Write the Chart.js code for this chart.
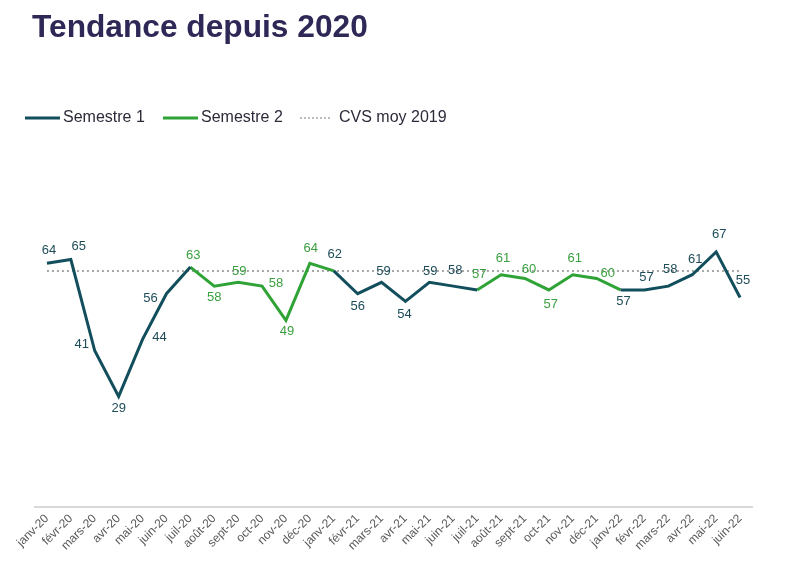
<!DOCTYPE html>
<html>
<head>
<meta charset="utf-8">
<script src="https://cdn.jsdelivr.net/npm/chart.js@4/dist/chart.umd.min.js"></script>
<style>
  body { margin: 0; background: #fff; }
  #wrap { width: 791px; height: 578px; }
</style>
</head>
<body>
<div id="wrap"><canvas id="myChart"></canvas></div>
<script>
// months and values
var months = ['janv-20','févr-20','mars-20','avr-20','mai-20','juin-20','juil-20','août-20','sept-20','oct-20','nov-20','déc-20',
              'janv-21','févr-21','mars-21','avr-21','mai-21','juin-21','juil-21','août-21','sept-21','oct-21','nov-21','déc-21',
              'janv-22','févr-22','mars-22','avr-22','mai-22','juin-22'];
var values = [64, 65, 41, 29, 44, 56, 63, 58, 59, 58, 49, 64,
              62, 56, 59, 54, 59, 58, 57, 61, 60, 57, 61, 60,
              57, 57, 58, 61, 67, 55];
var cvs2019 = 62;

// label placement around each point (dx, dy)
var labelOffsets = [[2,-13],[8,-13],[-13,-6],[0,12],[17,-2],[-16,5],[3,-12],[0,11],[1,-11],[14,-3],[1,11],[1,-15],
                    [1,-16],[0,13],[2,-11],[-1,13],[1,-11],[2,-16],[2,-16],[2,-16],[4,-9],[2,14],[2,-16],[11,-5],
                    [3,11],[2,-13],[2,-17],[3,-15],[3,-17],[3,-17]];

var darkTeal = '#124e5c';
var green = '#2fa336';
var grey = '#a6a6a6';
var FONT = '"Liberation Sans", Arial, sans-serif';

function semestre(i) { return (i % 12) < 6 ? 1 : 2; }

// each semester line also carries the first point of the next semester
var s1 = values.map(function (v, i) { return (i % 12) <= 6 ? v : null; });
var s2 = values.map(function (v, i) { return (i % 12) >= 6 || (i % 12) === 0 ? v : null; });
var cvs = values.map(function () { return cvs2019; });

// title + legend drawn by hand so they sit where the original has them
var headerPlugin = {
  id: 'header',
  afterDraw: function (chart) {
    var c = chart.ctx;
    c.save();
    c.font = 'bold 31.7px ' + FONT;
    c.fillStyle = '#2d2856';
    c.textBaseline = 'alphabetic';
    c.fillText('Tendance depuis 2020', 32, 37);

    var items = [
      { x: 25, tx: 63, ds: chart.data.datasets[0] },
      { x: 163, tx: 201, ds: chart.data.datasets[1] },
      { x: 300, tx: 339, ds: chart.data.datasets[2] }
    ];
    var ly = 118;
    c.font = '16px ' + FONT;
    c.textBaseline = 'middle';
    items.forEach(function (it) {
      var dashed = !!it.ds.borderDash;
      c.beginPath();
      c.strokeStyle = it.ds.borderColor;
      c.lineWidth = dashed ? 1.5 : 3;
      c.setLineDash(dashed ? [2, 2] : []);
      c.moveTo(it.x, ly);
      c.lineTo(it.x + (dashed ? 32 : 35), ly);
      c.stroke();
      c.setLineDash([]);
      c.fillStyle = '#2b2b3a';
      c.fillText(it.ds.label, it.tx, ly);
    });
    c.restore();
  }
};

var valueLabels = {
  id: 'valueLabels',
  afterDatasetsDraw: function (chart) {
    var c = chart.ctx;
    var x = chart.scales.x, y = chart.scales.y;
    c.save();
    c.font = '13px ' + FONT;
    c.textAlign = 'center';
    c.textBaseline = 'middle';
    values.forEach(function (v, i) {
      var off = labelOffsets[i];
      c.fillStyle = semestre(i) === 1 ? '#1e4d59' : '#3a9f3f';
      c.fillText(String(v), x.getPixelForValue(i) + off[0], y.getPixelForValue(v) + off[1]);
    });
    c.restore();
  }
};

var ctx = document.getElementById('myChart').getContext('2d');
var chart = new Chart(ctx, {
  type: 'line',
  data: {
    labels: months,
    datasets: [{
      label: 'Semestre 1',
      data: s1,
      borderColor: darkTeal,
      borderWidth: 3,
      pointRadius: 0,
      tension: 0
    }, {
      label: 'Semestre 2',
      data: s2,
      borderColor: green,
      borderWidth: 3,
      pointRadius: 0,
      tension: 0
    }, {
      label: 'CVS moy 2019',
      data: cvs,
      borderColor: grey,
      borderWidth: 2,
      borderDash: [2, 3],
      pointRadius: 0
    }]
  },
  options: {
    responsive: true,
    maintainAspectRatio: false,
    animation: false,
    layout: { padding: { top: 134, left: 35, right: 39, bottom: 28 } },
    plugins: {
      tooltip: { enabled: false },
      legend: { display: false }
    },
    scales: {
      x: {
        offset: true,
        grid: { display: false },
        border: { color: '#d9d9d9', width: 2 },
        ticks: {
          color: '#595959',
          font: { family: FONT, size: 12 },
          padding: -3,
          maxRotation: 45,
          minRotation: 45,
          autoSkip: false
        }
      },
      y: {
        display: false,
        min: 0,
        max: 98
      }
    }
  },
  plugins: [headerPlugin, valueLabels]
});
</script>
</body>
</html>
